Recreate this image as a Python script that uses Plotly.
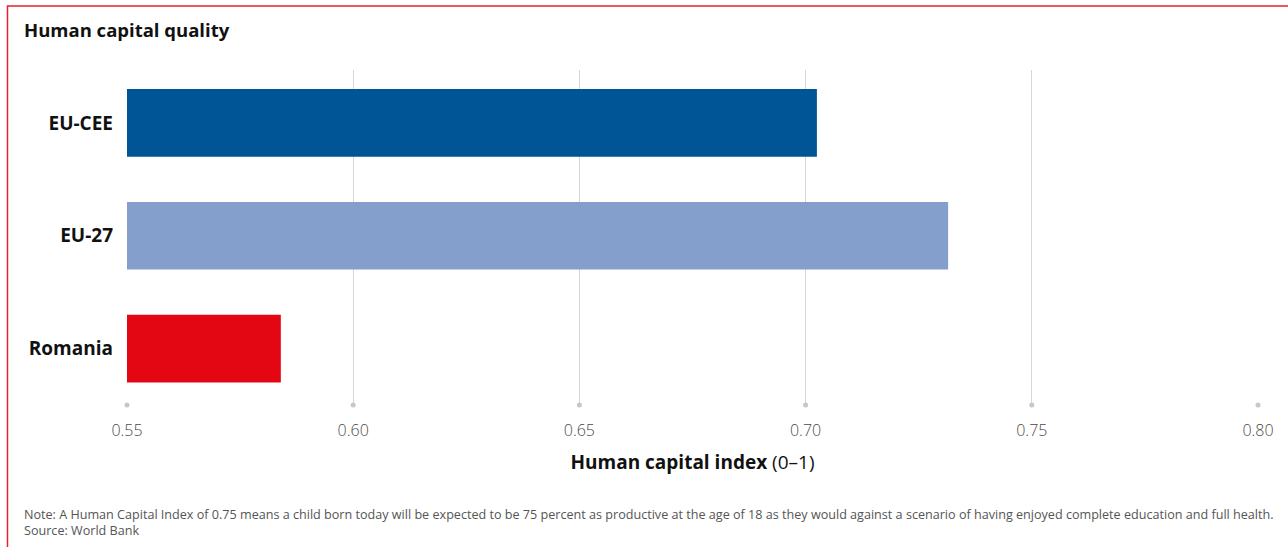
import plotly.graph_objects as go

categories = ["EU-CEE", "EU-27", "Romania"]
values = [0.7025, 0.7315, 0.584]
bar_colors = ["#005596", "#849FCC", "#E30613"]
tick_vals = [0.55, 0.60, 0.65, 0.70, 0.75, 0.80]
tick_text = ["0.55", "0.60", "0.65", "0.70", "0.75", "0.80"]

title_text = "Human capital quality"
axis_title = "<b>Human capital index</b> (0\u20131)"
note_text = ("Note: A Human Capital Index of 0.75 means a child born today will be expected to be 75 percent as "
             "productive at the age of 18 as they would against a scenario of having enjoyed complete education and full health.")
source_text = "Source: World Bank"

W, H = 1288, 547
L, R, T, B = 127, 30, 70, 141.5
pw, ph = W - L - R, H - T - B

def px(x):
    return (x - L) / pw

def py(y):
    return (H - B - y) / ph

fig = go.Figure()
fig.add_trace(go.Bar(
    y=categories, x=values, orientation="h",
    marker=dict(color=bar_colors, line=dict(width=0)),
    width=0.6, base=0, showlegend=False, hoverinfo="x+y",
))
# tick dots at the bottom of the gridlines
fig.add_trace(go.Scatter(
    x=tick_vals, y=[0] * len(tick_vals), yaxis="y2", mode="markers",
    marker=dict(color="#C8C8C8", size=5), cliponaxis=False,
    showlegend=False, hoverinfo="skip",
))

fig.update_layout(
    width=W, height=H,
    margin=dict(l=L, r=R, t=T, b=B),
    paper_bgcolor="white", plot_bgcolor="white",
    font=dict(family="Open Sans", color="#111"),
    xaxis=dict(
        range=[0.55, 0.80], tickvals=tick_vals, ticktext=tick_text,
        showgrid=True, gridcolor="#D6D6D6", gridwidth=1.2,
        zeroline=False, showline=False, ticks="",
        tickfont=dict(family="Open Sans", size=16, color="#4A4A4A", weight=300),
        ticklabelstandoff=14,
        title=dict(text=axis_title, font=dict(family="Open Sans", size=19, color="#111"), standoff=15),
    ),
    yaxis=dict(
        categoryorder="array", categoryarray=categories[::-1],
        range=[-0.5, 2.469], showgrid=False, zeroline=False, showline=False, ticks="",
        tickfont=dict(family="Open Sans", size=19, color="#111", weight="bold"),
        ticklabelstandoff=13,
    ),
    yaxis2=dict(overlaying="y", range=[0, 1], visible=False, fixedrange=True),
    bargap=0.4,
)

fig.add_annotation(text="<b>" + title_text + "</b>", xref="paper", yref="paper",
                   x=px(22), y=py(29), xanchor="left", yanchor="middle", showarrow=False,
                   font=dict(family="Open Sans", size=18.5, color="#111"))
fig.add_annotation(text=note_text + "<br>" + source_text, xref="paper", yref="paper",
                   x=px(22), y=py(523), xanchor="left", yanchor="middle", align="left",
                   showarrow=False,
                   font=dict(family="Open Sans", size=12.6, color="#555"))

# red frame
fig.add_shape(type="path", xref="paper", yref="paper",
              path=f"M {px(7.5)} {py(H + 5)} L {px(7.5)} {py(6)} L {px(W + 5)} {py(6)}",
              line=dict(color="#E5202E", width=1.5))

fig.write_html("out.html", config={"displayModeBar": False},
               post_script="document.body.style.margin='0';")
